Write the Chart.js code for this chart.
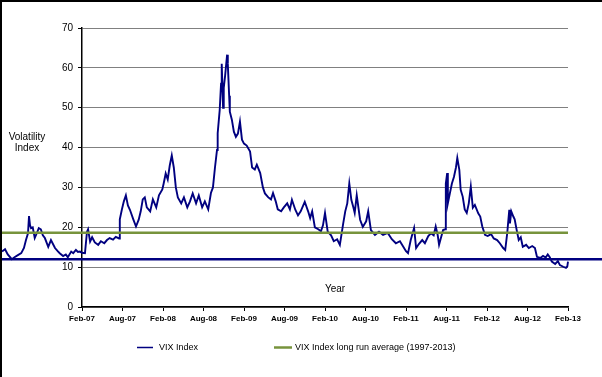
<!DOCTYPE html>
<html>
<head>
<meta charset="utf-8">
<script src="https://cdn.jsdelivr.net/npm/chart.js@4.4.1/dist/chart.umd.min.js"></script>
<style>
	html, body { margin: 0; padding: 0; background: #fff; }
	#wrap { width: 602px; height: 377px; position: relative; }
</style>
</head>
<body>
<div id="wrap"><canvas id="chart" width="602" height="377"></canvas></div>
<script>
// months counted from Feb-07 (0) to Feb-13 (72)
const tickLabels = ["Feb-07", "Aug-07", "Feb-08", "Aug-08", "Feb-09", "Aug-09", "Feb-10",
	"Aug-10", "Feb-11", "Aug-11", "Feb-12", "Aug-12", "Feb-13"];

const vixMonth = [
	-11.85, -11.4, -11.0, -10.4, -10.0, -9.5, -9.0, -8.6, -8.3, -8.0, -7.85, -7.7, -7.55, -7.3, -7.0,
	-6.7, -6.4, -6.1, -5.8, -5.5, -5.0, -4.6, -4.3, -4.0, -3.6, -3.3, -2.8, -2.4, -2.1, -1.6, -1.3,
	-0.9, -0.6, -0.3, 0, 0.44, 0.74, 0.9, 1.2, 1.5, 1.9, 2.4, 2.8, 3.3, 3.7, 4.1, 4.6, 5.0, 5.5,
	5.6, 5.9, 6.2, 6.5, 6.8, 7.1, 7.6, 8.0, 8.4, 8.7, 9.0, 9.3, 9.6, 10.1, 10.5, 11.0, 11.4, 11.9,
	12.1, 12.4, 12.7, 13.0, 13.3, 13.6, 13.9, 14.2, 14.7, 15.1, 15.6, 16.0, 16.4, 16.9, 17.3, 17.8,
	18.2, 18.7, 19.1, 19.4, 19.7, 20.0, 20.1, 20.4, 20.6, 20.7, 20.9, 21.0, 21.2, 21.5, 21.6, 21.8,
	21.9, 22.2, 22.5, 22.8, 23.1, 23.4, 23.7, 24.0, 24.4, 24.9, 25.2, 25.6, 25.9, 26.4, 26.8, 27.1,
	27.6, 28.0, 28.3, 28.7, 29.0, 29.5, 29.9, 30.4, 30.8, 31.1, 31.6, 32.0, 32.4, 33.0, 33.5, 33.8,
	34.1, 34.5, 35.0, 35.4, 35.7, 36.0, 36.4, 36.9, 37.3, 37.8, 38.2, 38.7, 39.0, 39.3, 39.6, 39.9,
	40.2, 40.4, 40.7, 41.2, 41.6, 42.1, 42.4, 42.8, 43.4, 44.0, 44.6, 45.3, 45.9, 46.5, 47.1, 47.6,
	48.0, 48.3, 48.7, 49.2, 49.5, 49.9, 50.4, 50.8, 51.3, 51.7, 52.1, 52.4, 52.7, 52.9, 53.2, 53.5,
	53.8, 53.9, 54.1, 54.2, 54.5, 54.8, 55.1, 55.4, 55.6, 55.9, 56.1, 56.4, 56.7, 57.0, 57.3, 57.6,
	57.9, 58.2, 58.7, 59.0, 59.3, 59.7, 60.1, 60.6, 61.0, 61.5, 61.9, 62.4, 62.7, 63.0, 63.3, 63.4,
	63.6, 63.9, 64.1, 64.4, 64.7, 65.0, 65.3, 65.8, 66.2, 66.7, 67.1, 67.4, 67.9, 68.3, 68.7, 69.0,
	69.3, 69.6, 70.1, 70.5, 70.8, 71.3, 71.7, 71.9, 72.0
];

const vixLevel = [
	13.9, 14.5, 13.2, 12.0, 12.5, 13.0, 13.5, 14.8, 16.8, 18.5, 22.8, 20.5, 19.8, 20.0, 17.3,
	18.5, 19.8, 19.5, 18.0, 17.3, 15.1, 16.8, 15.8, 14.8, 14.0, 13.5, 12.8, 13.2, 12.5, 13.9, 13.5,
	14.3, 13.8, 13.9, 13.6, 13.5, 18.9, 19.5, 16.4, 17.5, 16.2, 15.6, 16.5, 16.0, 16.8, 17.3, 16.9, 17.6, 17.2,
	22.0, 24.4, 26.5, 28.0, 25.5, 24.4, 22.0, 20.2, 21.9, 24.0, 27.0, 27.5, 25.0, 24.0, 27.0, 25.0, 28.0, 29.5,
	31.0, 33.5, 32.0, 35.5, 38.0, 35.0, 30.0, 27.5, 26.0, 27.5, 25.0, 26.5, 28.5, 26.0, 28.0, 25.0,
	26.5, 24.5, 28.6, 30.0, 35.0, 39.4, 43.6, 49.4, 56.0, 61.0, 50.0, 55.0, 58.0, 63.3, 61.0, 53.0,
	49.0, 47.0, 44.0, 42.7, 43.5, 46.5, 42.0, 41.0, 40.5, 39.0, 35.0, 34.5, 35.7, 33.6, 30.0, 28.5,
	27.5, 27.0, 28.6, 26.5, 24.5, 24.0, 25.0, 26.0, 24.5, 26.9, 24.4, 23.0, 24.0, 26.4, 24.0, 22.3,
	24.0, 20.0, 19.5, 19.0, 20.5, 23.6, 18.9, 18.0, 16.5, 17.0, 15.6, 21.0, 24.0, 26.0, 31.0, 26.9,
	25.0, 23.6, 28.0, 21.9, 20.1, 21.5, 24.0, 19.3, 18.1, 18.9, 18.1, 18.6, 17.0, 16.0, 16.5, 15.1,
	14.0, 13.5, 16.8, 19.8, 14.8, 15.8, 16.8, 16.0, 17.8, 18.5, 18.0, 20.2, 18.0, 15.6, 17.5, 19.3,
	19.5, 31.0, 33.6, 26.0, 28.5, 31.0, 32.6, 35.0, 37.4, 34.4, 29.4, 27.7, 24.5, 23.6, 26.0, 30.2,
	24.9, 25.6, 23.5, 22.7, 20.2, 18.1, 17.8, 18.3, 17.2, 16.8, 16.0, 14.8, 14.3, 18.6, 24.4, 21.0,
	24.0, 22.7, 22.0, 19.3, 16.8, 17.5, 15.1, 15.6, 14.8, 15.3, 14.8, 12.6, 12.3, 12.8, 12.4, 13.2,
	12.5, 11.4, 10.8, 11.5, 10.5, 10.1, 9.8, 10.2, 11.4
];

// long run average 1997-2013 and the lower reference line
const avgLevel = 18.6;
const avgSpan = [-12.2, 72];
const lowLevel = 12.0;
const lowSpan = [-12.2, 77.5];

const navy = "#000080";
const olive = "#77933C";

const vixData = vixMonth.map((m, i) => ({ x: m, y: vixLevel[i] }));

const extras = {
	id: "extras",
	beforeDraw(chart) {
		const ctx = chart.ctx;
		ctx.save();
		ctx.fillStyle = "#fff";
		ctx.fillRect(0, 0, chart.width, chart.height);
		ctx.restore();
	},
	afterDraw(chart) {
		const ctx = chart.ctx;
		ctx.save();
		ctx.fillStyle = "#000";
		ctx.textAlign = "center";
		ctx.textBaseline = "middle";
		ctx.font = '10px "Liberation Sans"';
		ctx.fillText("Volatility", 27, 137);
		ctx.fillText("Index", 27, 148);
		ctx.fillText("Year", 335, 289);

		// legend
		ctx.font = '9px "Liberation Sans"';
		ctx.textAlign = "left";
		const items = [
			{ label: chart.data.datasets[2].label, color: navy, w: 1.5, x0: 137, x1: 153, tx: 159 },
			{ label: chart.data.datasets[1].label, color: olive, w: 2.5, x0: 274, x1: 292, tx: 295 }
		];
		items.forEach(it => {
			ctx.strokeStyle = it.color;
			ctx.lineWidth = it.w;
			ctx.beginPath();
			ctx.moveTo(it.x0, 347.5);
			ctx.lineTo(it.x1, 347.5);
			ctx.stroke();
			ctx.fillStyle = "#000";
			ctx.fillText(it.label, it.tx, 348);
		});

		// frame
		ctx.fillStyle = "#000";
		ctx.fillRect(0, 0, chart.width, 2);
		ctx.fillRect(0, 0, 2, chart.height);
		ctx.restore();
	}
};

const chart = new Chart(document.getElementById("chart"), {
	type: "line",
	data: {
		datasets: [
			{
				label: "lower line",
				data: lowSpan.map(m => ({ x: m, y: lowLevel })),
				borderColor: navy,
				borderWidth: 2.5,
				pointRadius: 0,
				clip: false
			},
			{
				label: "VIX Index long run average (1997-2013)",
				data: avgSpan.map(m => ({ x: m, y: avgLevel })),
				borderColor: olive,
				borderWidth: 2.5,
				pointRadius: 0,
				clip: false
			},
			{
				label: "VIX Index",
				data: vixData,
				borderColor: navy,
				borderWidth: 1.9,
				pointRadius: 0,
				tension: 0,
				clip: false
			}
		]
	},
	options: {
		responsive: false,
		animation: false,
		events: [],
		layout: { padding: { left: 0, right: 34, top: 28, bottom: 0 } },
		plugins: {
			legend: { display: false },
			tooltip: { enabled: false }
		},
		scales: {
			x: {
				type: "linear",
				afterDataLimits: s => { s.min = 0; s.max = 72; },
				afterFit: s => { s.height = 70; },
				ticks: {
					stepSize: 6,
					autoSkip: false,
					maxRotation: 0,
					padding: 3,
					color: "#000",
					font: { family: "Liberation Sans", size: 8, weight: "bold" },
					callback: v => tickLabels[v / 6]
				},
				grid: {
					drawOnChartArea: false,
					drawTicks: true,
					tickLength: 4,
					tickColor: "#000"
				},
				border: { color: "#000", width: 1.5 }
			},
			y: {
				min: 0,
				max: 70,
				afterFit: s => { s.width = 82; },
				ticks: {
					stepSize: 10,
					padding: 5,
					color: "#000",
					font: { family: "Liberation Sans", size: 10 }
				},
				grid: {
					color: "#808080",
					lineWidth: 1,
					tickLength: 4,
					tickColor: "#000"
				},
				border: { color: "#000", width: 1.5 }
			}
		}
	},
	plugins: [extras]
});
</script>
</body>
</html>
